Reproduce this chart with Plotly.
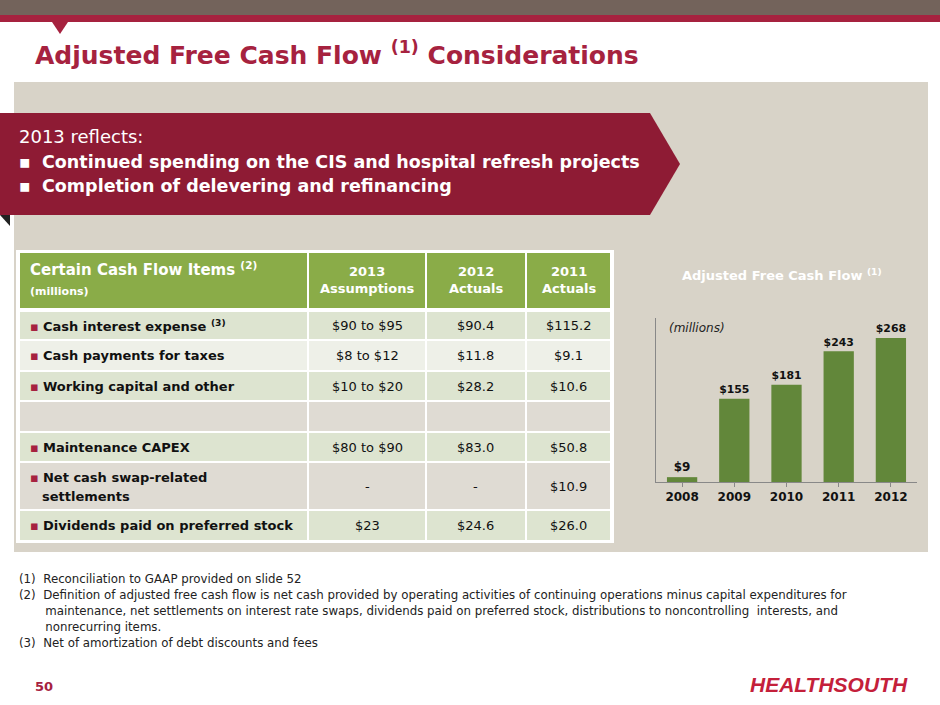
import plotly.graph_objects as go

years = ['2008', '2009', '2010', '2011', '2012']
fcf = [9, 155, 181, 243, 268]
fcf_labels = ['<b>$9</b>', '<b>$155</b>', '<b>$181</b>', '<b>$243</b>', '<b>$268</b>']

col_heads = ['2013<br>Assumptions', '2012<br>Actuals', '2011<br>Actuals']
row_items = ['Cash interest expense <sup>(3)</sup>', 'Cash payments for taxes', 'Working capital and other', '',
             'Maintenance CAPEX', 'Net cash swap-related<br>settlements', 'Dividends paid on preferred stock']
assump = ['$90 to $95', '$8 to $12', '$10 to $20', '', '$80 to $90', '-', '$23']
act2012 = ['$90.4', '$11.8', '$28.2', '', '$83.0', '-', '$24.6']
act2011 = ['$115.2', '$9.1', '$10.6', '', '$50.8', '$10.9', '$26.0']

W, H = 940, 705
def px(x): return x / W
def py(y): return 1 - y / H

RED = '#a6223f'
FONT = 'DejaVu Sans'

fig = go.Figure()
fig.add_trace(go.Bar(x=years, y=fcf, text=fcf_labels, textposition='outside',
                     marker=dict(color='#62873a', line=dict(width=0)),
                     textfont=dict(family=FONT, size=12, color='#111'), cliponaxis=False, width=0.58))

shapes = []
ann = []
def rect(x0, y0, x1, y1, color, line=None):
    shapes.append(dict(type='rect', xref='paper', yref='paper', x0=px(x0), x1=px(x1), y0=py(y1), y1=py(y0),
                       fillcolor=color, line=dict(width=0) if line is None else line, layer='below'))
def text(x, y, s, size=13, color='#111', anchor='left', bold=False, family=FONT, yanchor='middle'):
    if bold:
        s = '<b>' + s + '</b>'
    ann.append(dict(x=px(x), y=py(y), xref='paper', yref='paper', text=s, showarrow=False, xanchor=anchor,
                    yanchor=yanchor, font=dict(size=size, color=color, family=family), align=anchor if anchor != 'center' else 'center'))

# top bands
rect(0, 0, 940, 15, '#73635b')
rect(0, 15, 940, 22, RED)
shapes.append(dict(type='path', xref='paper', yref='paper', layer='above',
                   path=f'M {px(52)} {py(22)} L {px(68)} {py(22)} L {px(60)} {py(34)} Z', fillcolor=RED, line=dict(width=0)))
text(33, 72, 'Adjusted Free Cash Flow <sup>(1)</sup> Considerations', size=25, color=RED, bold=True, yanchor='bottom')

# grey panel
rect(14, 82, 928, 552, '#d8d3c8')
# red banner
shapes.append(dict(type='path', xref='paper', yref='paper', layer='below',
                   path=f'M {px(0)} {py(113)} L {px(650)} {py(113)} L {px(680)} {py(164)} L {px(650)} {py(215)} L {px(0)} {py(215)} Z',
                   fillcolor='#8e1b34', line=dict(width=0)))
shapes.append(dict(type='path', xref='paper', yref='paper', layer='below',
                   path=f'M {px(0)} {py(215)} L {px(10)} {py(215)} L {px(10)} {py(226)} Z', fillcolor='#222', line=dict(width=0)))
text(17, 137, '2013 reflects:', size=18, color='white')
text(17, 162, '▪  <b>Continued spending on the CIS and hospital refresh projects</b>', size=17.5, color='white')
text(17, 186, '▪  <b>Completion of delevering and refinancing</b>', size=17.5, color='white')

# table
cols = [19, 308, 426, 526, 611]
rect(16, 250, 614, 543, '#ffffff')
for i in range(4):
    rect(cols[i] + 1, 253, cols[i + 1] - 1, 308, '#8aac48')
text(28, 269, 'Certain Cash Flow Items <sup>(2)</sup>', size=15, color='white', bold=True)
text(28, 291, '<b>(millions)</b>', size=11, color='white')
for i, h in enumerate(col_heads):
    text((cols[i + 1] + cols[i + 2]) / 2, 280, h, size=13, color='white', anchor='center', bold=True)
row_y = [(312, 339), (341, 370), (372, 400), (402, 431), (433, 461), (463, 509), (511, 540)]
row_col = ['#dde4d0', '#eef0e8', '#dde4d0', '#dfdbd3', '#dde4d0', '#dfdbd3', '#dde4d0']
for r, (y0, y1) in enumerate(row_y):
    for c in range(4):
        rect(cols[c] + 1, y0, cols[c + 1] - 1, y1, row_col[r])
    yc = (y0 + y1) / 2
    if row_items[r]:
        lines = row_items[r].split('<br>')
        text(28, yc - (9 if len(lines) > 1 else 0), '<span style="color:#a6223f">▪</span> <b>' + lines[0] + '</b>', size=13)
        if len(lines) > 1:
            text(40, yc + 10, '<b>' + lines[1] + '</b>', size=13)
    for c, vals in enumerate([assump, act2012, act2011]):
        text((cols[c + 1] + cols[c + 2]) / 2, yc, vals[r], size=13, anchor='center')

# chart titles
text(782, 275, 'Adjusted Free Cash Flow <sup>(1)</sup>', size=13, color='white', anchor='center', bold=True)
text(667, 328, '<i>(millions)</i>', size=12, color='#222')

# footnotes
notes = ['(1)  Reconciliation to GAAP provided on slide 52',
         '(2)  Definition of adjusted free cash flow is net cash provided by operating activities of continuing operations minus capital expenditures for',
         '       maintenance, net settlements on interest rate swaps, dividends paid on preferred stock, distributions to noncontrolling  interests, and',
         '       nonrecurring items.',
         '(3)  Net of amortization of debt discounts and fees']
for i, n in enumerate(notes):
    text(17, 579 + i * 16, n, size=11.8, color='#222')
text(33, 686, '50', size=13, color=RED, bold=True)
text(910, 684, '<i>HEALTHSOUTH</i>', size=21, color='#c4203a', anchor='right', bold=True, family='Liberation Sans')

fig.update_layout(
    width=W, height=H, margin=dict(l=0, r=0, t=0, b=0), paper_bgcolor='white', plot_bgcolor='rgba(0,0,0,0)',
    showlegend=False, shapes=shapes, annotations=ann, bargap=0.42,
    xaxis=dict(domain=[px(656), px(917)], showline=True, linecolor='#888', ticks='outside', ticklen=4,
               tickcolor='#888', tickfont=dict(family=FONT, size=12, color='#111'), tickprefix='<b>', ticksuffix='</b>'),
    yaxis=dict(domain=[py(482), py(318)], range=[0, 305], showgrid=False, showticklabels=False,
               showline=True, linecolor='#888', zeroline=False),
)
fig.write_html('out.html', config={'displayModeBar': False})

# drop the browser's default page margin so the slide sits at 0,0
with open('out.html', encoding='utf-8') as f:
    page = f.read()
page = page.replace('<head>', '<head><style>body{margin:0;overflow:hidden}</style>', 1)
with open('out.html', 'w', encoding='utf-8') as f:
    f.write(page)
